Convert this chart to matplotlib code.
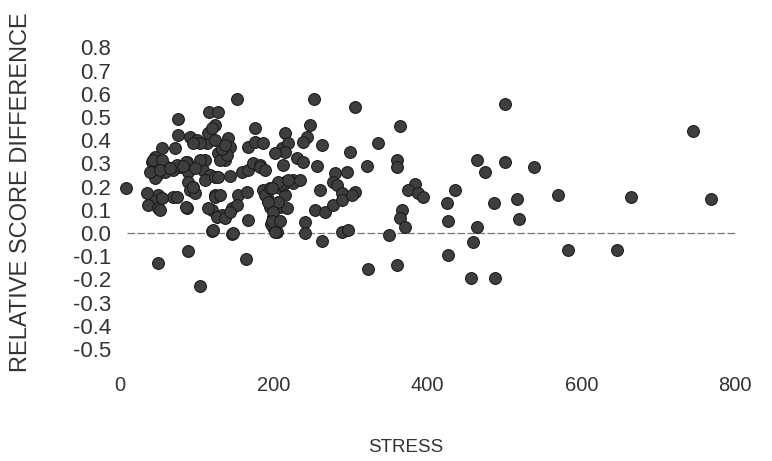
import matplotlib
matplotlib.use("Agg")
import matplotlib.pyplot as plt

stress = [
    9, 50, 89, 105, 120, 146, 164, 153, 116, 128, 76, 124, 76, 91, 101, 114, 115, 120,
    141, 144, 128, 137, 130, 72, 55, 167, 46, 42, 88, 78, 69, 59, 49, 46, 89, 89, 91,
    111, 108, 117, 111, 124, 143, 159, 167, 50, 69, 124, 154, 42, 37, 50, 55, 88, 98,
    120, 133, 146, 167, 147, 121, 127, 137, 153, 166, 173, 182, 104, 95, 140, 62, 75,
    86, 95, 104, 128, 75, 86, 115, 124, 130, 143, 186, 192, 195, 199, 199, 205, 208,
    218, 215, 225, 176, 176, 186, 215, 211, 44, 55,
    40, 53, 66, 82, 98, 124, 133, 137, 36, 52, 189, 195, 208, 215, 206, 193, 212, 226,
    210, 200, 197,
    253, 306, 247, 244, 238, 219, 215, 263, 336, 202, 299, 231, 238, 183, 189, 212,
    257, 296, 322, 280, 277, 283, 206, 219, 234, 198, 260, 289, 306, 198, 208, 202,
    241, 241, 254, 267, 277, 289, 302, 263, 289, 297, 323,
    501, 364, 360, 360, 464, 475, 501, 384, 375, 388, 394, 436, 425, 486, 367, 364,
    371, 427, 464, 350, 459, 427, 360, 457, 488,
    745, 538, 517, 570, 664, 768, 519, 583, 646,
]
score_diff = [
    0.194, -0.128, -0.076, -0.227, 0.010, -0.006, -0.112, 0.578, 0.522, 0.522, 0.491,
    0.466, 0.422, 0.414, 0.401, 0.388, 0.431, 0.453, 0.409, 0.371, 0.345, 0.315, 0.315,
    0.366, 0.366, 0.371, 0.328, 0.306, 0.306, 0.284, 0.272, 0.263, 0.250, 0.237, 0.263,
    0.220, 0.185, 0.315, 0.272, 0.250, 0.228, 0.241, 0.246, 0.263, 0.272, 0.164, 0.155,
    0.164, 0.164, 0.142, 0.121, 0.108, 0.151, 0.108, 0.172, 0.099, 0.078, 0.108, 0.056,
    0.000, 0.013, 0.069, 0.065, 0.121, 0.177, 0.302, 0.293, 0.388, 0.388, 0.336, 0.284,
    0.293, 0.306, 0.198, 0.315, 0.241, 0.155, 0.112, 0.108, 0.155, 0.164, 0.091, 0.185,
    0.155, 0.112, 0.069, 0.026, 0.004, 0.112, 0.108, 0.220, 0.228, 0.453, 0.392, 0.388,
    0.431, 0.366, 0.315, 0.315,
    0.263, 0.272, 0.280, 0.289, 0.280, 0.400, 0.360, 0.380, 0.172, 0.099, 0.164, 0.194,
    0.194, 0.164, 0.134, 0.134, 0.207, 0.216, 0.210, 0.090, 0.040,
    0.578, 0.543, 0.466, 0.414, 0.392, 0.388, 0.349, 0.379, 0.388, 0.345, 0.349, 0.323,
    0.306, 0.284, 0.272, 0.293, 0.289, 0.263, 0.289, 0.259, 0.220, 0.207, 0.220, 0.228,
    0.228, 0.194, 0.185, 0.172, 0.177, 0.052, 0.052, 0.004, 0.047, 0.000, 0.099, 0.091,
    0.121, 0.142, 0.164, -0.033, 0.003, 0.013, -0.155,
    0.556, 0.463, 0.315, 0.284, 0.315, 0.264, 0.307, 0.211, 0.185, 0.172, 0.155, 0.185,
    0.129, 0.129, 0.099, 0.065, 0.026, 0.052, 0.027, -0.009, -0.037, -0.095, -0.138,
    -0.193, -0.193,
    0.440, 0.286, 0.148, 0.164, 0.154, 0.145, 0.059, -0.073, -0.073,
]

x_ticks = [0, 200, 400, 600, 800]
y_ticks = [0.8, 0.7, 0.6, 0.5, 0.4, 0.3, 0.2, 0.1, 0.0, -0.1, -0.2, -0.3, -0.4, -0.5]
y_tick_labels = [f"{v:.1f}" for v in y_ticks]

FONT = ["Liberation Sans", "DejaVu Sans"]
plt.rcParams["font.family"] = FONT

fig = plt.figure(figsize=(7.72, 4.61), dpi=100)
ax = fig.add_axes([0.1528, 0.2178, 0.8316, 0.7045])

ax.hlines(0, 10, 800, colors="#777777", linestyles=(0, (6, 2)), linewidth=0.9, zorder=1)
ax.scatter(stress, score_diff, s=72, facecolor="#3e3e3e", edgecolor="#1c1c1c",
           linewidth=0.8, zorder=2)

ax.set_xlim(-2.08, 832.2)
ax.set_ylim(-0.55, 0.85)
ax.set_xticks(x_ticks)
ax.set_xticklabels([str(v) for v in x_ticks])
ax.set_yticks(y_ticks)
ax.set_yticklabels(y_tick_labels)
ax.tick_params(axis="both", length=0, colors="#333333")
ax.tick_params(axis="x", labelsize=14.5, pad=11)
ax.tick_params(axis="y", labelsize=16, pad=5)
for s in ax.spines.values():
    s.set_visible(False)

ax.set_xlabel("STRESS", fontsize=13.5, color="#333333")
ax.xaxis.set_label_coords(0.4486, -0.24)
ax.set_ylabel("RELATIVE SCORE DIFFERENCE", fontsize=17, color="#333333")
ax.yaxis.set_label_coords(-0.134, 0.519)

fig.savefig("out.png", dpi=100)
